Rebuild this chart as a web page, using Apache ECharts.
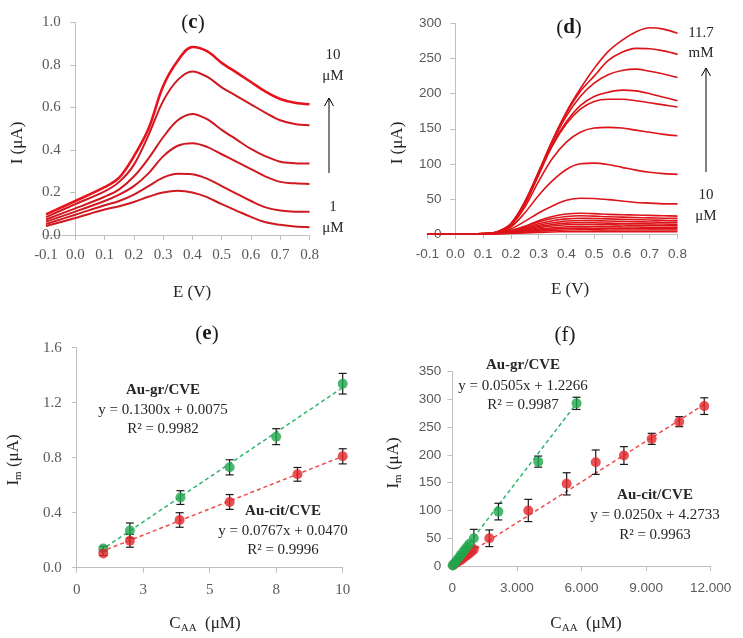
<!DOCTYPE html>
<html><head><meta charset="utf-8">
<script src="https://cdn.jsdelivr.net/npm/echarts@6/dist/echarts.min.js"></script>
<style>html,body{margin:0;padding:0;background:#fff}#chart{width:743px;height:638px}</style>
</head><body><div id="chart"></div>
<script>
// ---------- DATA ----------
// Panels (c) and (d): potential axis (V)
const E = [-0.1,0,0.1,0.15,0.2,0.25,0.3,0.35,0.4,0.45,0.5,0.55,0.6,0.65,0.7,0.75,0.8];
// (c) currents (µA), 1 µM (bottom) ... 10 µM (top)
const c1 = [0.042,0.08,0.12,0.135,0.155,0.18,0.2,0.208,0.2,0.178,0.145,0.115,0.085,0.06,0.048,0.04,0.037];
const c2 = [0.052,0.095,0.14,0.16,0.19,0.23,0.27,0.288,0.286,0.265,0.23,0.195,0.16,0.13,0.115,0.11,0.11];
const c3 = [0.063,0.11,0.16,0.19,0.23,0.29,0.37,0.42,0.432,0.415,0.38,0.345,0.31,0.275,0.25,0.243,0.24];
const c4 = [0.073,0.125,0.18,0.215,0.275,0.36,0.46,0.54,0.57,0.545,0.495,0.45,0.405,0.37,0.345,0.338,0.336];
const c5 = [0.084,0.145,0.205,0.25,0.33,0.47,0.63,0.73,0.77,0.745,0.695,0.655,0.615,0.575,0.54,0.522,0.516];
const c6 = [0.097,0.16,0.225,0.27,0.37,0.5,0.7,0.82,0.885,0.865,0.81,0.765,0.72,0.675,0.64,0.622,0.615];
// (d) currents (µA), 11.7 mM (top) ... 10 µM (bottom)
const d1 = [0,0,0.5,3,15,46,89,134,174,207,236,260,276,288,294,292,286];
const d2 = [0,0,0.5,3,14,45,88,133,172,203,225,247,259,264.5,264,261,256];
const d3 = [0,0,0.5,3,14,44,87,131,168,196,215,227,233,235,232,228,223];
const d4 = [0,0,0.5,3,13,43,85,128,160,183,196,202,205,204,200,195,190];
const d5 = [0,0,0.5,3,13,42,84,126,157,178,189,192,192,190,187,184,181];
const d6 = [0,0,0.4,2.5,12,38,75,108,131,145,151,152,151,148,145,142,140];
const d7 = [0,0,0.3,2,10,30,55,76,92,100,101,99,95,91,88,86,85];
const d8 = [0,0,0.2,1.5,7,18,30,40,48,51,50.5,49,47,45,44,43,43];
const d9 = [0,0,0.3,1.5,5,11,19,25,28.5,29.5,29,28,27.5,27,26.5,26,25.5];
const d10 = [0,0,0.3,1.4,4.5,10,17,22,25,26,25.5,24.5,24,23.5,23,22.5,22.3];
const d11 = [0,0,0.3,1.3,4,8.5,14.5,19,21.5,22.5,22,21.5,21,20.5,20,19.5,19];
const d12 = [0,0,0.2,1.1,3.5,7.5,12.5,16,18.5,19.3,19,18.5,18,17.5,17,16.8,16.6];
const d13 = [0,0,0.2,1,3,6.5,10.5,13.5,15.5,16.3,16,15.5,15,14.8,14.5,14.2,14];
const d14 = [0,0,0.2,0.9,2.5,5.5,9,11.5,13.2,13.8,13.6,13.2,12.8,12.5,12.3,12.1,12];
const d15 = [0,0,0.2,0.7,2,4.3,7,9,10.4,10.9,10.7,10.4,10.1,9.9,9.7,9.6,9.5];
const d16 = [0,0,0.1,0.5,1.5,3.3,5.5,7,8,8.4,8.3,8.1,7.9,7.8,7.7,7.6,7.6];
const d17 = [0,0,0.1,0.4,1.1,2.4,3.9,5,5.7,6,5.9,5.8,5.8,5.7,5.7,5.7,5.7];
const d18 = [0,0,0.1,0.2,0.7,1.4,2.3,2.9,3.3,3.5,3.4,3.4,3.3,3.3,3.3,3.3,3.3];
// (e) calibration, low range
const eX_gr = [1, 2, 3.9, 5.75, 7.5, 10];
const eY_gr = [0.14, 0.27, 0.51, 0.73, 0.953, 1.338];
const eErr_gr = [0.015, 0.055, 0.05, 0.055, 0.058, 0.075];
const eX_cit = [1, 2, 3.87, 5.75, 8.3, 10];
const eY_cit = [0.104, 0.196, 0.347, 0.478, 0.679, 0.81];
const eErr_cit = [0.015, 0.047, 0.053, 0.054, 0.05, 0.055];
const eTrendX = [0.9, 10];
const eTrend_gr = [0.125, 1.31];
const eTrend_cit = [0.115, 0.81];
const eTickLabels = ['0', '3', '5', '8', '10'];
// (f) calibration, full range
const fX_gr = [20, 100, 200, 300, 400, 500, 600, 700, 800, 1000, 2140, 3990, 5770];
const fY_gr = [1, 5, 10, 15, 20, 25, 30, 35, 40, 50, 98, 188, 293];
const fErr_gr = [0, 0, 0, 0, 0, 0, 0, 0, 0, 16, 15, 10, 11];
const fX_cit = [50, 200, 300, 400, 500, 600, 700, 800, 900, 1000, 1720, 3530, 5310, 6660, 7970, 9260, 10540, 11700];
const fY_cit = [2, 6, 9, 11, 14, 17, 20, 23, 26, 30, 50, 100, 148, 187, 199, 229, 260, 288];
const fErr_cit = [0, 0, 0, 0, 0, 0, 0, 0, 0, 0, 15, 20, 20, 22, 16, 10, 9, 15];
const fTrend_grX = [0, 5770];
const fTrend_grY = [1.2, 293];
const fTrend_citX = [0, 11700];
const fTrend_citY = [4.3, 291];
const fTickLabels = ['0', '3.000', '6.000', '9.000', '12.000'];

// ---------- STYLE ----------
const FONT = 'Liberation Serif';
const SANS = 'Liberation Sans';
const axisCol = '#bfbfbf';
const lblCol = '#595959';
const GREEN = '#1ea64c', RED = '#e3262a';
const zip = (xs, ys) => xs.map((x, i) => [x, ys[i]]);
const errData = (xs, ys, es) => xs.map((x, i) => [x, ys[i] - es[i], ys[i] + es[i]]).filter((d, i) => es[i] > 0);

function errRender(params, api) {
  const x = api.value(0), lo = api.value(1), hi = api.value(2);
  const p1 = api.coord([x, lo]), p2 = api.coord([x, hi]);
  const w = 4, st = {stroke: '#1a1a1a', lineWidth: 1.2};
  return {type: 'group', children: [
    {type: 'line', shape: {x1: p1[0], y1: p1[1], x2: p2[0], y2: p2[1]}, style: st},
    {type: 'line', shape: {x1: p1[0] - w, y1: p1[1], x2: p1[0] + w, y2: p1[1]}, style: st},
    {type: 'line', shape: {x1: p2[0] - w, y1: p2[1], x2: p2[0] + w, y2: p2[1]}, style: st}
  ]};
}

function xAx(gi, min, max, interval, fmt, margin, font, size) {
  return {type: 'value', gridIndex: gi, min, max, interval,
    axisLine: {show: true, onZero: false, lineStyle: {color: axisCol, width: 1}},
    axisTick: {show: true, length: 5, lineStyle: {color: axisCol}},
    splitLine: {show: false},
    axisLabel: {formatter: fmt, margin, color: lblCol, fontFamily: font, fontSize: size}};
}
function yAx(gi, min, max, interval, fmt, margin, onZero, font, size) {
  return {type: 'value', gridIndex: gi, min, max, interval,
    axisLine: {show: true, onZero: onZero, lineStyle: {color: axisCol, width: 1}},
    axisTick: {show: true, length: 5, lineStyle: {color: axisCol}},
    splitLine: {show: false},
    axisLabel: {formatter: fmt, margin, color: lblCol, fontFamily: font, fontSize: size}};
}

const series = [];
// (c)
const cCurves = [c1, c2, c3, c4, c5, c6];
cCurves.forEach((c, i) => series.push({type: 'line', xAxisIndex: 0, yAxisIndex: 0, data: zip(E, c), smooth: 0.35,
  symbol: 'none', lineStyle: {color: i === 5 ? '#e8121c' : '#cf1820', width: i === 5 ? 2.6 : 2}, z: 3}));
// (d)
const dCurves = [d1, d2, d3, d4, d5, d6, d7, d8, d9, d10, d11, d12, d13, d14, d15, d16, d17, d18];
dCurves.forEach(c => series.push({type: 'line', xAxisIndex: 1, yAxisIndex: 1, data: zip(E, c), smooth: 0.35,
  symbol: 'none', lineStyle: {color: '#dc1419', width: 1.6}, z: 3}));
// (e)
series.push({type: 'line', xAxisIndex: 2, yAxisIndex: 2, data: zip(eTrendX, eTrend_gr), symbol: 'none',
  lineStyle: {color: '#2fb56e', width: 1.5, type: [4, 3]}, z: 2});
series.push({type: 'line', xAxisIndex: 2, yAxisIndex: 2, data: zip(eTrendX, eTrend_cit), symbol: 'none',
  lineStyle: {color: '#ee4a4a', width: 1.5, type: [4, 3]}, z: 2});
series.push({type: 'custom', xAxisIndex: 2, yAxisIndex: 2, renderItem: errRender, data: errData(eX_gr, eY_gr, eErr_gr), z: 3});
series.push({type: 'custom', xAxisIndex: 2, yAxisIndex: 2, renderItem: errRender, data: errData(eX_cit, eY_cit, eErr_cit), z: 3});
series.push({type: 'scatter', xAxisIndex: 2, yAxisIndex: 2, data: zip(eX_gr, eY_gr), symbolSize: 10, itemStyle: {color: GREEN}, z: 4});
series.push({type: 'scatter', xAxisIndex: 2, yAxisIndex: 2, data: zip(eX_cit, eY_cit), symbolSize: 10, itemStyle: {color: RED}, z: 4});
// (f)
series.push({type: 'line', xAxisIndex: 3, yAxisIndex: 3, data: zip(fTrend_grX, fTrend_grY), symbol: 'none',
  lineStyle: {color: '#2fb56e', width: 1.5, type: [4, 3]}, z: 2});
series.push({type: 'line', xAxisIndex: 3, yAxisIndex: 3, data: zip(fTrend_citX, fTrend_citY), symbol: 'none',
  lineStyle: {color: '#ee4a4a', width: 1.5, type: [4, 3]}, z: 2});
series.push({type: 'custom', xAxisIndex: 3, yAxisIndex: 3, renderItem: errRender, data: errData(fX_gr, fY_gr, fErr_gr), z: 3});
series.push({type: 'custom', xAxisIndex: 3, yAxisIndex: 3, renderItem: errRender, data: errData(fX_cit, fY_cit, fErr_cit), z: 3});
series.push({type: 'scatter', xAxisIndex: 3, yAxisIndex: 3, data: zip(fX_cit, fY_cit), symbolSize: 10, itemStyle: {color: RED}, z: 4});
series.push({type: 'scatter', xAxisIndex: 3, yAxisIndex: 3, data: zip(fX_gr, fY_gr), symbolSize: 10, itemStyle: {color: GREEN}, z: 5});

// ---------- TEXT ----------
function txt(x, y, text, opts) {
  const o = opts || {};
  return {type: 'text', x, y, rotation: o.rot || 0, z: 100,
    style: {text, fill: o.fill || '#262626', fontFamily: FONT, fontSize: o.size || 15, fontWeight: o.bold ? 'bold' : 'normal',
      align: 'center', verticalAlign: 'middle', textAlign: 'center', textVerticalAlign: 'middle', rich: o.rich}};
}
const titleRich = {n: {fontFamily: FONT, fontSize: 21, fill: '#1a1a1a'}, b: {fontFamily: FONT, fontSize: 21, fontWeight: 'bold', fill: '#1a1a1a'}};
const subRich = {a: {fontFamily: FONT, fontSize: 17, fill: '#262626'}, s: {fontFamily: FONT, fontSize: 11, fill: '#262626', padding: [8, 0, 0, 0]}};
function arrow(x, y1, y2) {
  return {type: 'group', z: 100, children: [
    {type: 'line', shape: {x1: x, y1: y1, x2: x, y2: y2}, style: {stroke: '#000', lineWidth: 1}},
    {type: 'polyline', shape: {points: [[x - 4.5, y2 + 8], [x, y2], [x + 4.5, y2 + 8]]}, style: {stroke: '#000', lineWidth: 1, fill: null}}
  ]};
}
const graphic = [
  txt(193, 23, '{n|(}{b|c}{n|)}', {rich: titleRich}),
  txt(569, 28, '{n|(}{b|d}{n|)}', {rich: titleRich}),
  txt(207, 334, '{n|(}{b|e}{n|)}', {rich: titleRich}),
  txt(565, 335, '{n|(}{n|f}{n|)}', {rich: titleRich}),
  // axis names
  txt(18, 143, 'I (μA)', {size: 17, rot: Math.PI / 2}),
  txt(192, 293, 'E (V)', {size: 17}),
  txt(398, 143, 'I (μA)', {size: 17, rot: Math.PI / 2}),
  txt(570, 290, 'E (V)', {size: 17}),
  txt(14, 460, '{a|I}{s|m}{a| (μA)}', {rich: subRich, rot: Math.PI / 2}),
  txt(205, 624, '{a|C}{s|AA}{a|  (μM)}', {rich: subRich}),
  txt(394, 463, '{a|I}{s|m}{a| (μA)}', {rich: subRich, rot: Math.PI / 2}),
  txt(586, 624, '{a|C}{s|AA}{a|  (μM)}', {rich: subRich}),
  // (c) annotations
  txt(333, 55, '10'), txt(333, 76, 'μM'), arrow(329, 173, 98), txt(333, 207, '1'), txt(333, 228, 'μM'),
  // (d) annotations
  txt(701, 33, '11.7'), txt(701, 53, 'mM'), arrow(706, 172, 68), txt(706, 195, '10'), txt(706, 216, 'μM'),
  // (e) equations
  txt(163, 390, 'Au-gr/CVE', {bold: true}), txt(163, 410, 'y = 0.1300x + 0.0075'), txt(163, 429, 'R² = 0.9982'),
  txt(283, 511, 'Au-cit/CVE', {bold: true}), txt(283, 531, 'y = 0.0767x + 0.0470'), txt(283, 550, 'R² = 0.9996'),
  // (f) equations
  txt(523, 365, 'Au-gr/CVE', {bold: true}), txt(523, 386, 'y = 0.0505x + 1.2266'), txt(523, 405, 'R² = 0.9987'),
  txt(655, 495, 'Au-cit/CVE', {bold: true}), txt(655, 515, 'y = 0.0250x + 4.2733'), txt(655, 535, 'R² = 0.9963')
];

const option = {
  backgroundColor: '#fff',
  animation: false,
  grid: [
    {left: 46, top: 22.5, width: 263.5, height: 212.5},
    {left: 427.5, top: 23.5, width: 250, height: 210.5},
    {left: 76.7, top: 347.7, width: 266, height: 220},
    {left: 452.3, top: 371.7, width: 258.4, height: 194.3}
  ],
  xAxis: [
    xAx(0, -0.1, 0.8, 0.1, v => v.toFixed(1), 13, FONT, 15),
    xAx(1, -0.1, 0.8, 0.1, v => v.toFixed(1), 13, SANS, 13.5),
    xAx(2, 0, 10, 2.5, v => eTickLabels[Math.round(v / 2.5)], 15, FONT, 15),
    xAx(3, 0, 12000, 3000, v => fTickLabels[Math.round(v / 3000)], 15, SANS, 13.5)
  ],
  yAxis: [
    yAx(0, 0, 1, 0.2, v => v.toFixed(1), -14.7, true, FONT, 15),
    yAx(1, 0, 300, 50, v => String(v), -14, true, SANS, 13.5),
    yAx(2, 0, 1.6, 0.4, v => v.toFixed(1), 15, false, FONT, 15),
    yAx(3, 0, 350, 50, v => String(v), 11, false, SANS, 13.5)
  ],
  series,
  graphic
};
const chart = echarts.init(document.getElementById('chart'), null, {renderer: 'canvas'});
chart.setOption(option);
</script></body></html>
